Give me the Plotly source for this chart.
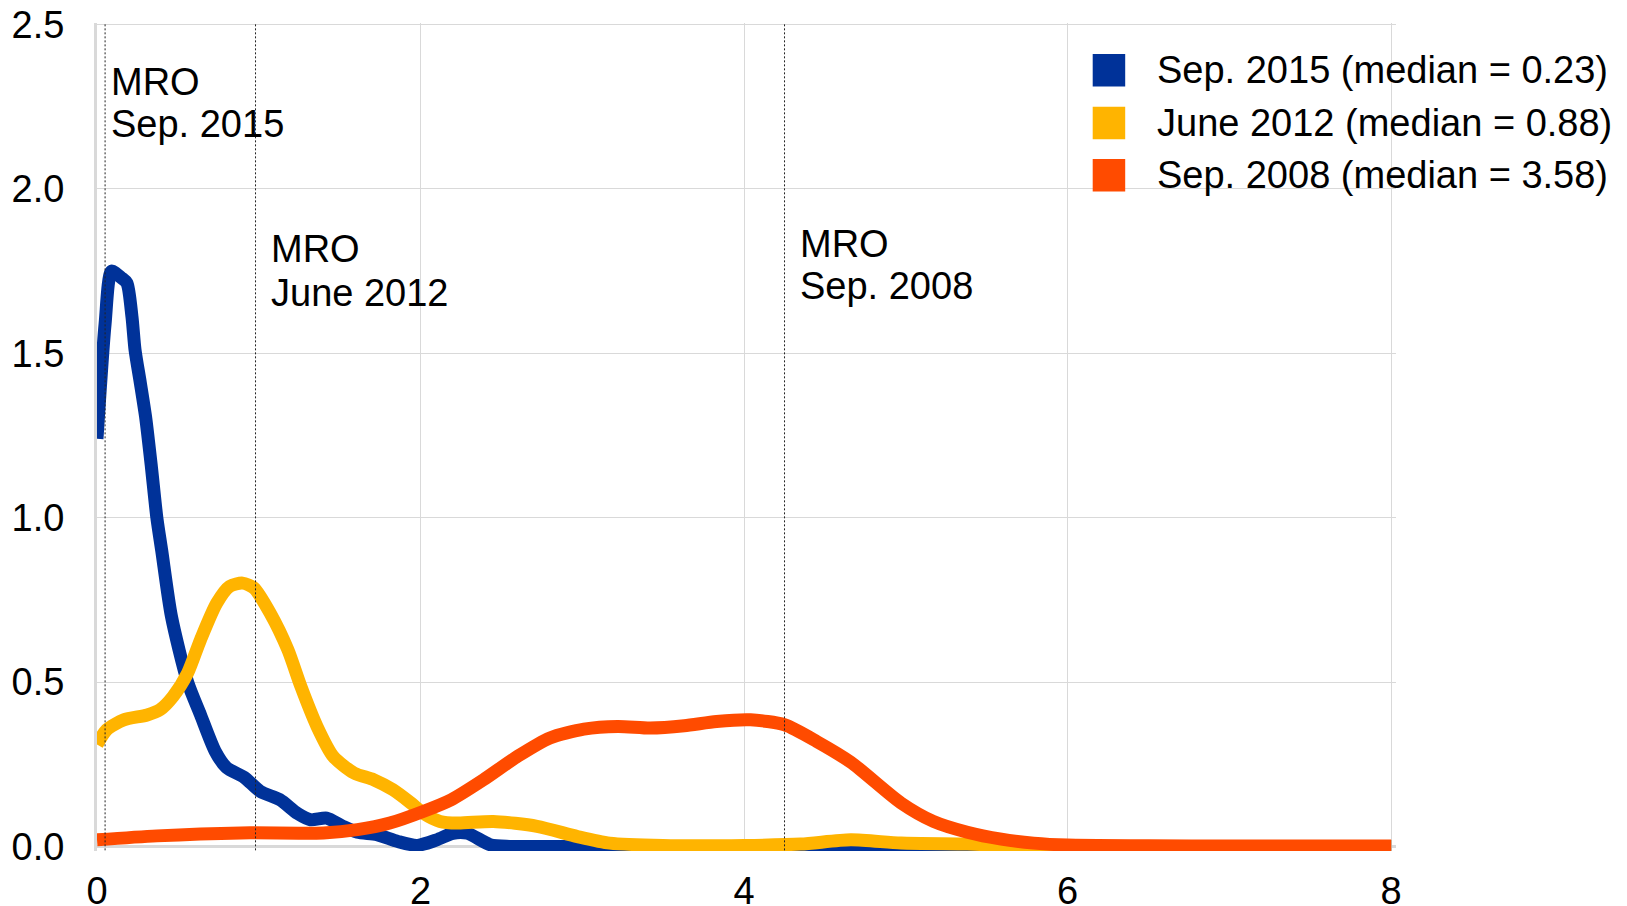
import plotly.graph_objects as go

FONT = "Liberation Sans, Arial, sans-serif"

# ---- data ----
sep2015_x = [0, 0.05, 0.09, 0.15, 0.185, 0.216, 0.235, 0.268, 0.30, 0.336, 0.37, 0.40, 0.46, 0.56, 0.64, 0.73,
             0.80, 0.91, 1.01, 1.13, 1.24, 1.32, 1.42, 1.52, 1.61, 1.73, 1.86, 1.98, 2.10, 2.20, 2.29,
             2.43, 2.55, 3.0, 4.0, 4.4, 4.66, 4.9, 5.5, 6.0, 7.0, 8.0]
sep2015_y = [1.24, 1.59, 1.75, 1.73, 1.714, 1.612, 1.511, 1.41, 1.308, 1.156, 1.00, 0.90, 0.70, 0.50, 0.40, 0.29,
             0.24, 0.21, 0.167, 0.142, 0.10, 0.081, 0.086, 0.061, 0.043, 0.036, 0.015, 0.003, 0.02, 0.04, 0.04,
             0.005, 0.0, 0.0, 0.0, 0.0, 0.006, 0.0, 0.0, 0.0, 0.0, 0.0]

jun2012_x = [0, 0.06, 0.165, 0.31, 0.39, 0.47, 0.56, 0.64, 0.74, 0.82, 0.90, 0.97, 1.07, 1.18, 1.26, 1.36,
             1.46, 1.59, 1.71, 1.83, 1.94, 2.02, 2.12, 2.23, 2.45, 2.72, 2.97, 3.17, 3.5, 4.0, 4.35, 4.66,
             4.97, 5.38, 5.7, 6.0, 7.0, 8.0]
jun2012_y = [0.31, 0.355, 0.385, 0.40, 0.416, 0.456, 0.527, 0.629, 0.74, 0.791, 0.801, 0.786, 0.71, 0.598, 0.487, 0.365,
             0.274, 0.223, 0.203, 0.172, 0.132, 0.10, 0.076, 0.071, 0.076, 0.061, 0.03, 0.01, 0.003, 0.003, 0.007, 0.02,
             0.01, 0.007, 0.002, 0.0, 0.0, 0.0]

sep2008_x = [0, 0.37, 0.89, 1.40, 1.61, 1.81, 2.02, 2.19, 2.39, 2.60, 2.80, 3.01, 3.22, 3.42, 3.63, 3.83,
             4.04, 4.25, 4.45, 4.66, 4.97, 5.17, 5.38, 5.59, 5.79, 6.0, 6.5, 7.0, 8.0]
sep2008_y = [0.02, 0.032, 0.041, 0.041, 0.051, 0.071, 0.107, 0.142, 0.203, 0.274, 0.33, 0.357, 0.365, 0.36, 0.367, 0.38,
             0.385, 0.37, 0.319, 0.256, 0.132, 0.076, 0.043, 0.022, 0.01, 0.004, 0.002, 0.001, 0.001]

series_names = ["Sep. 2015 (median = 0.23)", "June 2012 (median = 0.88)", "Sep. 2008 (median = 3.58)"]
series_colors = ["#003299", "#FFB400", "#FF4B00"]

mro_rates = [0.05, 0.98, 4.25]
mro_labels = [("MRO", "Sep. 2015"), ("MRO", "June 2012"), ("MRO", "Sep. 2008")]
mro_label_x = [0.076, 1.066, 4.331]
mro_label_y = [(2.327, 2.199), (1.816, 1.685), (1.834, 1.705)]

x_ticks = [0, 2, 4, 6, 8]
y_ticks = [0.0, 0.5, 1.0, 1.5, 2.0, 2.5]

TXT = 38

fig = go.Figure()
for xs, ys, name, col in zip([sep2015_x, jun2012_x, sep2008_x],
                             [sep2015_y, jun2012_y, sep2008_y],
                             series_names, series_colors):
    fig.add_trace(go.Scatter(x=xs, y=ys, mode="lines", name=name,
                             line=dict(color=col, width=13, shape="spline", smoothing=0.7),
                             showlegend=False, hoverinfo="skip"))

shapes = []
for r in mro_rates:
    shapes.append(dict(type="line", xref="x", yref="y", x0=r, x1=r, y0=-0.012, y1=2.51,
                       line=dict(color="#222222", width=1, dash="2px,2px"), layer="above"))

annotations = []
for (l1, l2), ax, (y1, y2) in zip(mro_labels, mro_label_x, mro_label_y):
    annotations.append(dict(x=ax, y=y1, xref="x", yref="y", text=l1, showarrow=False,
                            xanchor="left", yanchor="middle", font=dict(family=FONT, size=TXT, color="#000")))
    annotations.append(dict(x=ax, y=y2, xref="x", yref="y", text=l2, showarrow=False,
                            xanchor="left", yanchor="middle", font=dict(family=FONT, size=TXT, color="#000")))

W, H = 1627, 906
ML, MR, MT, MB = 97, 231, 23, 55
PW, PH = W - ML - MR, H - MT - MB
def px2x(px):
    return (px - ML) / PW
def py2y(py):
    return (H - MB - py) / PH

# manual legend (big square swatches)
legend_centers = [70.3, 123.0, 175.2]
for name, col, cy in zip(series_names, series_colors, legend_centers):
    shapes.append(dict(type="rect", xref="paper", yref="paper",
                       x0=px2x(1092.7), x1=px2x(1125.2), y0=py2y(cy + 16.3), y1=py2y(cy - 16.3),
                       fillcolor=col, line=dict(width=0), layer="above"))
    annotations.append(dict(x=px2x(1154.5), y=py2y(cy), xref="paper", yref="paper", text=name,
                            showarrow=False, xanchor="left", yanchor="middle",
                            font=dict(family=FONT, size=TXT, color="#000")))

fig.update_layout(
    width=W, height=H,
    margin=dict(l=ML, r=MR, t=MT, b=MB, autoexpand=False),
    paper_bgcolor="white", plot_bgcolor="white",
    font=dict(family=FONT, size=TXT, color="#000"),
    shapes=shapes, annotations=annotations,
    xaxis=dict(range=[0, 8.03], tickvals=x_ticks, ticktext=[str(v) for v in x_ticks],
               showgrid=True, gridcolor="#d9d9d9", gridwidth=1, automargin=False,
               zeroline=False, showline=False, ticks="", ticklabeloverflow="allow",
               tickfont=dict(family=FONT, size=TXT, color="#000"), ticklabelstandoff=14),
    yaxis=dict(range=[-0.014, 2.505], tickvals=y_ticks, ticktext=["%.1f" % v for v in y_ticks],
               showgrid=True, gridcolor="#d9d9d9", gridwidth=1, automargin=False,
               zeroline=True, zerolinecolor="#d9d9d9", zerolinewidth=3,
               showline=True, linecolor="#d9d9d9", linewidth=3, layer="below traces",
               ticks="", ticklabeloverflow="allow",
               tickfont=dict(family=FONT, size=TXT, color="#000"), ticklabelstandoff=22),
)

# remove the default 8px page margin so the figure fills the window exactly
fig.write_html("out.html", config={"displayModeBar": False},
               post_script="document.body.style.margin='0px';")
